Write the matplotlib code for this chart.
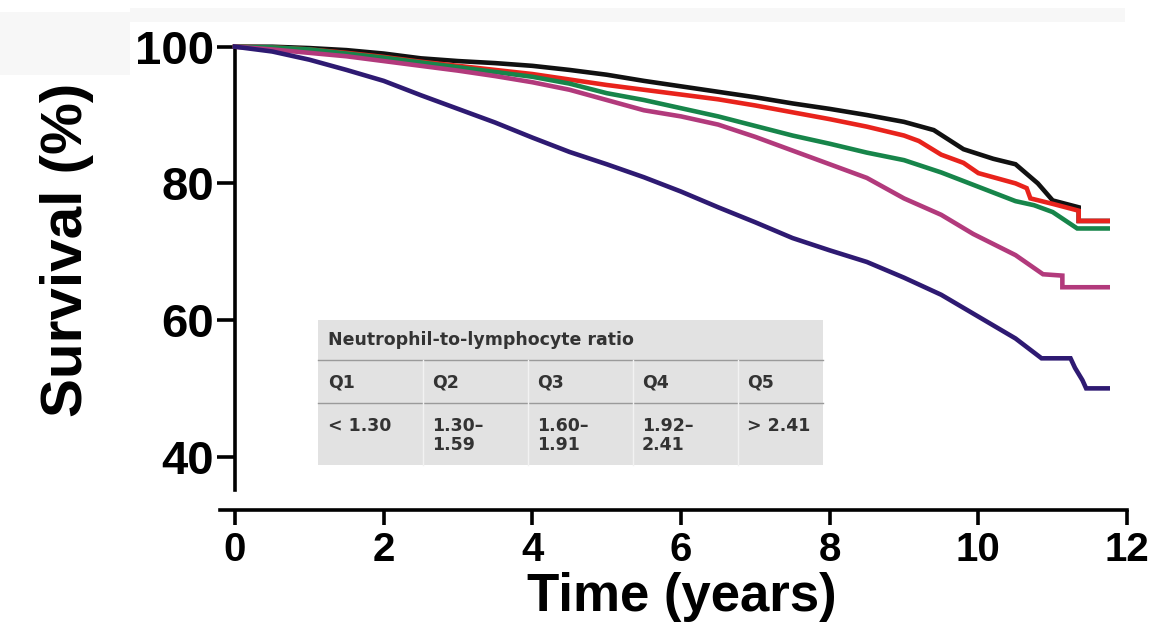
import matplotlib
matplotlib.use('Agg')
import matplotlib.pyplot as plt
from matplotlib.patches import Rectangle
from matplotlib.lines import Line2D

W, H = 1155, 626

# --------------------------------------------
#   survival curves
# --------------------------------------------
q1_t = [0, 0.5, 1, 1.5, 2, 2.5, 3, 3.5, 4, 4.5, 5, 5.5, 6, 6.5, 7, 7.5, 8, 8.5, 9,
        9.4, 9.8, 10.2, 10.5, 10.8, 11.0, 11.35, 11.35, 11.74]
q1_v = [100, 100, 99.8, 99.5, 99.0, 98.3, 97.9, 97.6, 97.2, 96.6, 95.9, 95.0, 94.2, 93.4,
        92.6, 91.7, 90.9, 90.0, 89.0, 87.8, 85.0, 83.6, 82.8, 80.0, 77.5, 76.5, 74.5, 74.5]

q2_t = [0, 0.5, 1, 1.5, 2, 2.5, 3, 3.5, 4, 4.5, 5, 5.5, 6, 6.5, 7, 7.5, 8, 8.5, 9,
        9.2, 9.5, 9.8, 10.0, 10.5, 10.65, 10.7, 11.0, 11.35, 11.35, 11.74]
q2_v = [100, 99.9, 99.6, 99.1, 98.5, 97.8, 97.2, 96.6, 96.0, 95.2, 94.4, 93.7, 93.0, 92.3,
        91.4, 90.4, 89.4, 88.3, 87.0, 86.2, 84.2, 83.0, 81.5, 80.0, 79.3, 77.8, 77.0, 76.0,
        74.5, 74.5]

q3_t = [0, 0.5, 1, 1.5, 2, 2.5, 3, 3.5, 4, 4.5, 5, 5.5, 6, 6.5, 7, 7.5, 8, 8.5, 9,
        9.5, 10, 10.5, 10.75, 11.0, 11.33, 11.74]
q3_v = [100, 99.9, 99.6, 99.0, 98.4, 97.7, 97.0, 96.3, 95.6, 94.6, 93.2, 92.2, 91.0, 89.8,
        88.4, 87.0, 85.8, 84.5, 83.4, 81.6, 79.5, 77.4, 76.8, 75.8, 73.4, 73.4]

q4_t = [0, 0.5, 1, 1.5, 2, 2.5, 3, 3.5, 4, 4.5, 5, 5.5, 6, 6.5, 7, 7.5, 8, 8.5, 9,
        9.5, 9.93, 10.5, 10.87, 11.13, 11.13, 11.74]
q4_v = [100, 99.6, 99.1, 98.6, 97.9, 97.2, 96.5, 95.7, 94.8, 93.7, 92.2, 90.7, 89.8, 88.6,
        86.8, 84.8, 82.8, 80.8, 77.8, 75.4, 72.6, 69.5, 66.7, 66.5, 64.8, 64.8]

q5_t = [0, 0.5, 1, 1.5, 2, 2.5, 3, 3.5, 4, 4.5, 5, 5.5, 6, 6.5, 7, 7.5, 8, 8.5, 9,
        9.5, 10, 10.5, 10.85, 11.24, 11.3, 11.4, 11.45, 11.74]
q5_v = [100, 99.3, 98.1, 96.6, 95.0, 92.9, 90.9, 88.9, 86.7, 84.6, 82.8, 80.9, 78.8, 76.5,
        74.3, 72.0, 70.2, 68.5, 66.2, 63.7, 60.5, 57.3, 54.4, 54.4, 53.0, 51.2, 50.0, 50.0]

series = [(q1_t, q1_v, '#111111'),
          (q2_t, q2_v, '#e8231c'),
          (q3_t, q3_v, '#17854a'),
          (q4_t, q4_v, '#b23a7c'),
          (q5_t, q5_v, '#2e1a72')]

x_ticks = [0, 2, 4, 6, 8, 10, 12]
y_ticks = [40, 60, 80, 100]

table_title = 'Neutrophil-to-lymphocyte ratio'
quintiles = ['Q1', 'Q2', 'Q3', 'Q4', 'Q5']
ranges = ['< 1.30', '1.30–\n1.59', '1.60–\n1.91', '1.92–\n2.41', '> 2.41']


def px(x, y):
    # pixel position -> figure fraction
    return x / W, 1 - y / H


fig = plt.figure(figsize=(W / 100, H / 100), dpi=100)

# faint grey scan background bits
fig.patches.append(Rectangle(px(130, 22), 995 / W, 14 / H, transform=fig.transFigure,
                             facecolor='#f7f7f7', edgecolor='none', zorder=-5))
fig.patches.append(Rectangle(px(0, 75), 130 / W, 63 / H, transform=fig.transFigure,
                             facecolor='#f7f7f7', edgecolor='none', zorder=-5))

ax = fig.add_axes([0.1906, 0.1853, 0.7884, 0.751])
ax.patch.set_alpha(0)

for t, v, c in series:
    ax.plot(t, v, color=c, lw=3.3, solid_joinstyle='miter', zorder=3)

ax.set_xlim(-0.2, 12.05)
ax.set_ylim(32.2, 101)
ax.spines['top'].set_visible(False)
ax.spines['right'].set_visible(False)
ax.spines['left'].set_linewidth(2.6)
ax.spines['bottom'].set_linewidth(2.6)
ax.spines['left'].set_position(('data', 0))
ax.spines['left'].set_bounds(35.1, 100)
ax.spines['bottom'].set_bounds(-0.2, 12)

ax.set_xticks(x_ticks)
ax.set_yticks(y_ticks)
ax.set_xticks([0], minor=True)
ax.tick_params(axis='y', direction='out', length=13, width=2.6, pad=2)
ax.tick_params(axis='x', which='major', direction='out', length=11, width=2.6, pad=4)
ax.tick_params(axis='x', which='minor', direction='in', length=7, width=2.6)

for lab in ax.get_yticklabels():
    lab.set_fontfamily(['Liberation Sans', 'DejaVu Sans'])
    lab.set_fontweight('bold')
    lab.set_fontsize(34)
for lab in ax.get_xticklabels():
    lab.set_fontfamily(['Liberation Sans', 'DejaVu Sans'])
    lab.set_fontweight('bold')
    lab.set_fontsize(29)

fig.text(*px(67, 250), 'Survival (%)', rotation=90, ha='center', va='center',
         fontsize=42, fontweight='bold', family=['Liberation Sans', 'DejaVu Sans'])
fig.text(*px(682, 597), 'Time (years)', ha='center', va='center',
         fontsize=38, fontweight='bold', family=['Liberation Sans', 'DejaVu Sans'])

# --------------------------------------------
#   quintile table inset
# --------------------------------------------
tx0, ty0, tx1, ty1 = 318, 320, 823, 465
fig.patches.append(Rectangle(px(tx0, ty1), (tx1 - tx0) / W, (ty1 - ty0) / H,
                             transform=fig.transFigure, facecolor='#e2e2e2',
                             edgecolor='none', zorder=5))
for yy in (360, 403):
    fig.lines.append(Line2D([tx0 / W, tx1 / W], [1 - yy / H] * 2, transform=fig.transFigure,
                            color='#9a9a9a', lw=1.0, zorder=6))
col_x = [328, 432, 537, 642, 747]
for cx in col_x[1:]:
    fig.lines.append(Line2D([(cx - 9) / W] * 2, [1 - 360 / H, 1 - ty1 / H],
                            transform=fig.transFigure, color='#f2f2f2', lw=1.0, zorder=6))

tkw = dict(fontsize=12.5, fontweight='bold', color='#333333', family='DejaVu Sans', zorder=7)
fig.text(*px(328, 340), table_title, va='center', ha='left', **tkw)
for cx, q, r in zip(col_x, quintiles, ranges):
    fig.text(*px(cx, 383), q, va='center', ha='left', **tkw)
    fig.text(*px(cx, 417), r, va='top', ha='left', linespacing=1.1, **tkw)

fig.savefig('out.png', dpi=100)
